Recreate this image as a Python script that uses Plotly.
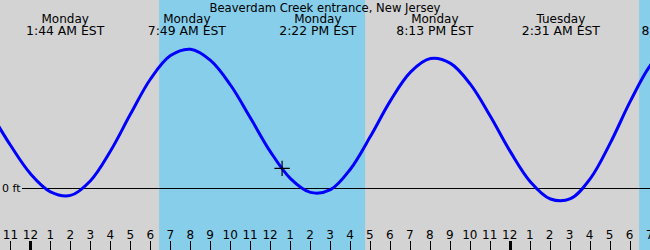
import plotly.graph_objects as go

# ---- data ----
station = "Beaverdam Creek entrance, New Jersey"
# tide curve, hourly: hours since Monday 00:00 and height in ft
curve_hours = [-2, -1, 0, 1, 2, 3, 4, 5, 6, 7, 8, 9, 10, 11, 12, 13, 14, 15, 16, 17,
               18, 19, 20, 21, 22, 23, 24, 25, 26, 27, 28, 29, 30, 31, 32]
curve_heights = [2.53, 1.44, 0.49, -0.11, -0.23, 0.26, 1.25, 2.48, 3.65, 4.43, 4.64,
                 4.27, 3.45, 2.35, 1.22, 0.33, -0.13, -0.04, 0.65, 1.74, 2.93, 3.88,
                 4.33, 4.17, 3.47, 2.40, 1.22, 0.22, -0.35, -0.34, 0.34, 1.53, 2.92,
                 4.11, 4.81]
# labelled tide extremes
label_hours = [1.733, 7.817, 14.367, 20.217, 26.517, 32.5]
label_days = ["Monday", "Monday", "Monday", "Monday", "Tuesday", "Tuesday"]
label_times = ["1:44 AM EST", "7:49 AM EST", "2:22 PM EST", "8:13 PM EST", "2:31 AM EST", "8:30 AM EST"]
# daylight (sunrise, sunset) in hours since Monday 00:00
sunrise = [6.43, 30.43]
sunset = [16.73, 40.0]
# current-time marker
now_hour = [12.58]
now_height = [0.67]
# hour ticks
tick_hours = list(range(-1, 32))
tick_labels = ["11", "12", "1", "2", "3", "4", "5", "6", "7", "8", "9", "10", "11",
               "12", "1", "2", "3", "4", "5", "6", "7", "8", "9", "10", "11",
               "12", "1", "2", "3", "4", "5", "6", "7"]
midnights = [0, 24]
height_ticks = [0]
height_labels = ["0 ft"]

# ---- layout constants ----
W, H = 650, 250
PX_PER_HOUR = 20.0
X0_PX = 30.5                      # pixel of Monday 00:00
X_RANGE = [-X0_PX / PX_PER_HOUR, (W - X0_PX) / PX_PER_HOUR]
LABEL_X_RANGE = [X_RANGE[0], X_RANGE[1] + 0.05]
PX_PER_FT = 30.0
ZERO_PX = 188.5
Y_RANGE = [-(H - ZERO_PX) / PX_PER_FT, ZERO_PX / PX_PER_FT]
FONT = "DejaVu Sans"
DAY_ROW_FT = (ZERO_PX - 19.8) / PX_PER_FT
TIME_ROW_FT = (ZERO_PX - 31.8) / PX_PER_FT
LABEL_AXIS_PX = 241.5
ZERO_LINE_START_PX = 22

fig = go.Figure()

fig.add_trace(go.Scatter(
    x=curve_hours, y=curve_heights, mode="lines",
    line=dict(color="#0000ff", width=3, shape="spline", smoothing=1.0),
    hoverinfo="skip", showlegend=False))

fig.add_trace(go.Scatter(
    x=now_hour, y=now_height, mode="markers",
    marker=dict(symbol="cross-thin", size=11, line=dict(color="black", width=1.2)),
    hoverinfo="skip", showlegend=False))

fig.add_trace(go.Scatter(
    x=label_hours, y=[DAY_ROW_FT] * len(label_hours), mode="text",
    text=label_days, textposition="middle center",
    textfont=dict(family=FONT, size=12, color="black"),
    cliponaxis=True, hoverinfo="skip", showlegend=False))
fig.add_trace(go.Scatter(
    x=label_hours, y=[TIME_ROW_FT] * len(label_hours), mode="text",
    text=label_times, textposition="middle center",
    textfont=dict(family=FONT, size=12.4, color="black"),
    cliponaxis=True, hoverinfo="skip", showlegend=False))

# invisible traces carrying the extra axes (midnight ticks, hour labels, ft label)
fig.add_trace(go.Scatter(x=midnights, y=[None, None], xaxis="x2", yaxis="y",
                         mode="lines", hoverinfo="skip", showlegend=False))
fig.add_trace(go.Scatter(x=midnights, y=[None, None], xaxis="x3", yaxis="y",
                         mode="lines", hoverinfo="skip", showlegend=False))
fig.add_trace(go.Scatter(x=midnights, y=[None, None], xaxis="x", yaxis="y2",
                         mode="lines", hoverinfo="skip", showlegend=False))

shapes = []
for sr, ss in zip(sunrise, sunset):
    shapes.append(dict(type="rect", xref="x", yref="paper", x0=sr, x1=ss, y0=0, y1=1,
                       fillcolor="#87ceeb", line=dict(width=0), layer="below"))
shapes.append(dict(type="line", xref="paper", yref="y", x0=ZERO_LINE_START_PX / W, x1=1,
                   y0=0, y1=0, line=dict(color="black", width=1), layer="below"))

fig.update_layout(
    width=W, height=H,
    margin=dict(l=0, r=0, t=0, b=0),
    paper_bgcolor="#d3d3d3", plot_bgcolor="#d3d3d3",
    font=dict(family=FONT, size=12, color="black"),
    title=dict(text=station, x=0.5, xanchor="center", xref="paper",
               y=1 - 7.8 / H, yanchor="middle", yref="container",
               font=dict(family=FONT, size=11.6, color="black")),
    shapes=shapes,
    xaxis=dict(range=X_RANGE, tickmode="array", tickvals=tick_hours,
               ticks="inside", ticklen=9, tickwidth=1, tickcolor="black",
               showticklabels=False, showgrid=False, zeroline=False, showline=False,
               fixedrange=True),
    xaxis2=dict(range=X_RANGE, overlaying="x", anchor="y", side="bottom",
                tickmode="array", tickvals=midnights, ticks="inside", ticklen=9,
                tickwidth=3, tickcolor="black", showticklabels=False,
                showgrid=False, zeroline=False, showline=False, fixedrange=True),
    xaxis3=dict(range=LABEL_X_RANGE, overlaying="x", anchor="free",
                position=(H - LABEL_AXIS_PX) / H, side="top",
                tickmode="array", tickvals=tick_hours, ticktext=tick_labels, ticks="",
                ticklabeloverflow="allow",
                showgrid=False, zeroline=False, showline=False, automargin=False,
                tickfont=dict(family=FONT, size=12, color="black"), fixedrange=True),
    yaxis=dict(range=Y_RANGE, showticklabels=False, ticks="", showgrid=False,
               zeroline=False, showline=False, fixedrange=True),
    yaxis2=dict(range=Y_RANGE, overlaying="y", anchor="free", side="left",
                position=(ZERO_LINE_START_PX - 1.5) / W,
                tickmode="array", tickvals=height_ticks, ticktext=height_labels, ticks="",
                ticklabeloverflow="allow",
                showgrid=False, zeroline=False, showline=False, automargin=False,
                tickfont=dict(family=FONT, size=11, color="black"), fixedrange=True),
)

fig.write_html("out.html", config={"displayModeBar": False, "staticPlot": True})
